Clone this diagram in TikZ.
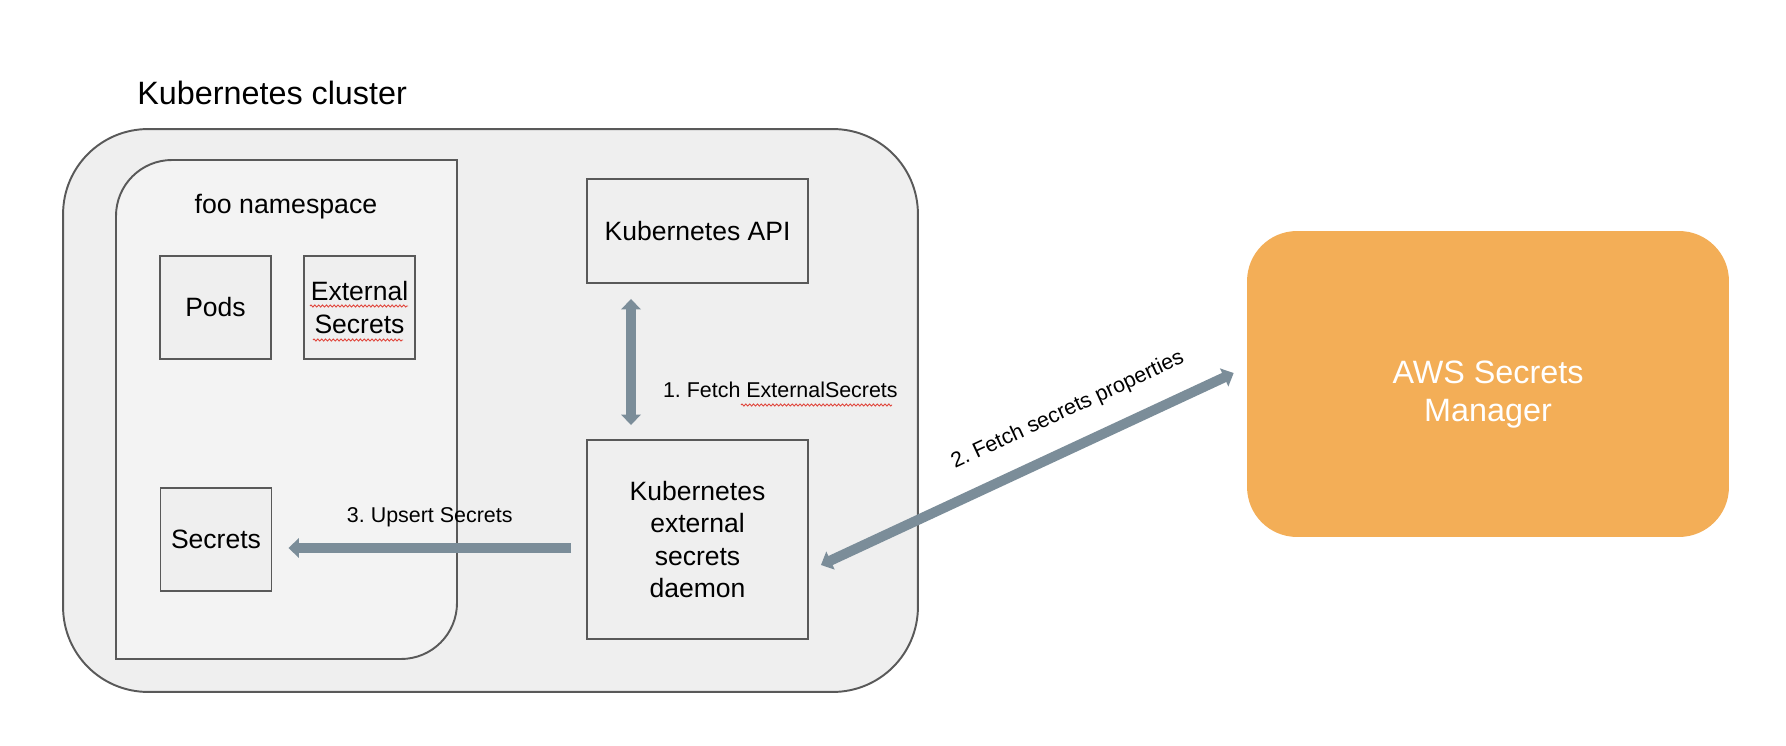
\documentclass[tikz,border=0pt]{standalone}
\usepackage{fontspec}
\setmainfont{Liberation Sans}
\frenchspacing
\usetikzlibrary{arrows.meta,positioning,decorations.pathmorphing}

\definecolor{clusterfill}{HTML}{EFEFEF}
\definecolor{nsfill}{HTML}{F3F3F3}
\definecolor{edgegray}{HTML}{595959}
\definecolor{flowgray}{HTML}{7B8D99}
\definecolor{awsorange}{HTML}{F3AE57}
\definecolor{spellred}{HTML}{E0463C}

\newcommand{\boxfont}{\fontsize{15.1}{18.5}\selectfont}
\newcommand{\titlefont}{\fontsize{18.4}{21.5}\selectfont}
\newcommand{\lblfont}{\fontsize{12.2}{14}\selectfont}

\begin{document}
\begin{tikzpicture}[x=0.02cm, y=-0.02cm,
    clusterbox/.style={draw=edgegray, fill=clusterfill, line width=1.1pt, rounded corners=1.7cm, inner sep=0pt},
    nsbox/.style={draw=edgegray, fill=nsfill, line width=1.1pt},
    main box/.style={draw=edgegray, fill=clusterfill, line width=1.1pt, font=\boxfont, align=center, inner sep=0pt},
    awsbox/.style={fill=awsorange, rounded corners=1cm, minimum width=9.64cm, minimum height=6.12cm, inner sep=0pt},
    flow/.style={draw=flowgray, line width=5.7pt, >={Triangle[width=11pt,length=6pt]}},
    lbl/.style={font=\lblfont, inner sep=0pt},
    spell/.style={draw=spellred, line width=0.5pt, decorate, decoration={zigzag, segment length=2.2pt, amplitude=0.6pt}}]

    \path[use as bounding box, fill=white] (0,0) rectangle (1786,746);

    \node[clusterbox, minimum width=17.1cm, minimum height=11.26cm] (cluster) at (490.5,410.5) {};
    \node[font=\titlefont, inner sep=0pt, anchor=base west] (clustertitle) at (137,105) {Kubernetes cluster};

    \draw[nsbox] (116,659) -- (116,216) arc (180:270:56) -- (457,160) -- (457,603) arc (0:90:56) -- cycle;
    \node[font=\fontsize{15.2}{18.5}\selectfont, inner sep=0pt, anchor=base] (nstitle) at (286,214) {foo namespace};

    \node[main box, minimum width=2.22cm, minimum height=2.06cm] (pods) at (215.5,307.5) {Pods};
    \node[main box, minimum width=2.22cm, minimum height=2.06cm] (extsecrets) at (359.5,307.5) {External\\Secrets};
    \node[main box, minimum width=2.22cm, minimum height=2.06cm] (secrets) at (216,539.5) {Secrets};

    \node[main box, minimum width=4.42cm, minimum height=2.08cm] (api) at (697.5,231) {Kubernetes API};
    \node[main box, minimum width=4.42cm, minimum height=3.98cm] (daemon) at (697.5,539.5) {Kubernetes\\external\\secrets\\daemon};

    \node[awsbox, label={[font=\titlefont, text=white, align=center, yshift=-6pt]center:AWS Secrets\\Manager}] (aws) at (1488,384) {};

    \draw[flow, <->] ([shift={(-66.5,15)}]api.south) -- ([shift={(-66.5,-14)}]daemon.north)
        node[lbl, pos=0.72, right=0.54cm] (fetchext) {1. Fetch ExternalSecrets};
    \draw[flow, ->] ([shift={(-15,8.5)}]daemon.west) -- ([shift={(16,8.5)}]secrets.east)
        node[lbl, midway, above=0.33cm] (upsert) {3. Upsert Secrets};
    \draw[flow, <->] ([shift={(12,25.5)}]daemon.east) -- ([shift={(-13,-11)}]aws.west)
        node[lbl, sloped, pos=0.635, above=0.42cm] (fetchprops) {2. Fetch secrets properties};

    % spell check marks
    \draw[spell] (310,306) -- (408,306);
    \draw[spell] (313,340) -- (403,340);
    \draw[spell] (741,405) -- (892,405);
\end{tikzpicture}
\end{document}
